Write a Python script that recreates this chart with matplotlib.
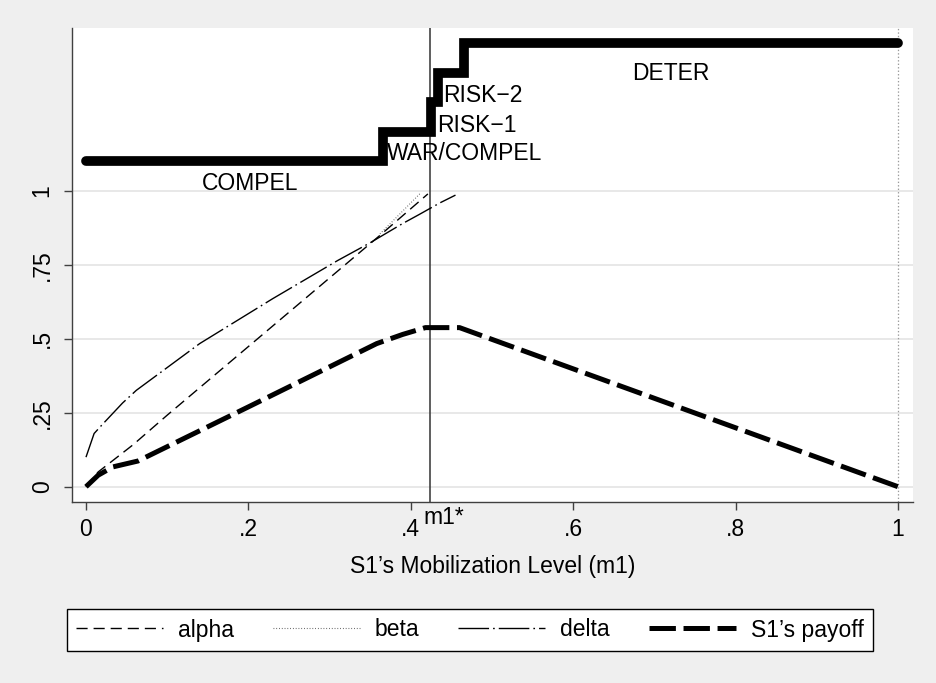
import matplotlib
matplotlib.use("Agg")
import matplotlib.pyplot as plt

plt.rcParams['font.family'] = ['Liberation Sans', 'DejaVu Sans']
plt.rcParams['lines.scale_dashes'] = False

# ---- data ----
m1_star = 0.4236
step_x = [0, 0.366, 0.425, 0.4335, 0.465, 1.0]
step_y = [1.1, 1.2, 1.3, 1.4, 1.5, 1.5]

alpha_x = [0, 0.015, 0.058, 0.10, 0.362, 0.421]
alpha_y = [0, 0.05, 0.142, 0.242, 0.85, 0.99]

beta_x = [0.362, 0.377, 0.412]
beta_y = [0.855, 0.896, 0.993]

delta_x = [0, 0.01, 0.02, 0.045, 0.062, 0.14, 0.23, 0.31, 0.35, 0.39, 0.41, 0.436, 0.455]
delta_y = [0.10, 0.18, 0.21, 0.283, 0.326, 0.484, 0.636, 0.765, 0.825, 0.89, 0.92, 0.96, 0.986]

payoff_x = [0, 0.015, 0.033, 0.064, 0.20, 0.358, 0.39, 0.418, 0.46, 1.0]
payoff_y = [0, 0.039, 0.067, 0.087, 0.27, 0.484, 0.515, 0.538, 0.538, 0]

labels = [("COMPEL", 0.202, 1.026, 'center'),
          ("WAR/COMPEL", 0.371, 1.128, 'left'),
          ("RISK\u22121", 0.432, 1.222, 'left'),
          ("RISK\u22122", 0.440, 1.323, 'left'),
          ("DETER", 0.72, 1.398, 'center')]

xticks = [0, 0.2, 0.4, 0.6, 0.8, 1]
xticklabels = ["0", ".2", ".4", ".6", ".8", "1"]
yticks = [0, 0.25, 0.5, 0.75, 1]
yticklabels = ["0", ".25", ".5", ".75", "1"]

FS = 16.5
BG = '#efefef'

fig = plt.figure(figsize=(9.36, 6.83), dpi=100, facecolor=BG)
ax = fig.add_axes([0.0766, 0.2657, 0.9758 - 0.0766, 0.959 - 0.2657])
ax.set_facecolor('white')
ax.set_xlim(-0.0176, 1.0188)
ax.set_ylim(-0.050, 1.551)

for s in ['top', 'right']:
    ax.spines[s].set_visible(False)
for s in ['left', 'bottom']:
    ax.spines[s].set_color('#404040')
    ax.spines[s].set_linewidth(1.0)

ax.set_yticks(yticks)
ax.set_yticklabels(yticklabels, rotation=90, va='center', fontsize=FS)
ax.set_xticks(xticks)
ax.set_xticklabels(xticklabels, fontsize=FS)
ax.tick_params(axis='both', direction='out', length=6, width=1.0, color='#404040')
ax.tick_params(axis='y', pad=7)
ax.tick_params(axis='x', pad=6)
ax.yaxis.grid(True, color='#e6e6e6', linewidth=1.3)
ax.set_axisbelow(True)

# reference lines
ax.axvline(m1_star, color='#333333', linewidth=1.1, zorder=2)
ax.axvline(1.0, color='#9a9a9a', linewidth=0.9, linestyle=(0, (1, 1.5)), zorder=2)

# series
ax.plot(alpha_x, alpha_y, color='black', linewidth=1.0,
        linestyle=(0, (8, 4.3)), label='alpha', zorder=3)
ax.plot(beta_x, beta_y, color='#555555', linewidth=0.8,
        linestyle=(0, (0.6, 1.4)), label='beta', zorder=3)
ax.plot(delta_x, delta_y, color='black', linewidth=1.0,
        linestyle=(0, (22, 2.9, 1.2, 2.9)), label='delta', zorder=3)
ax.plot(payoff_x, payoff_y, color='black', linewidth=3.6,
        linestyle=(0, (19, 5.5)), dash_capstyle='butt', label='S1\u2019s payoff', zorder=4)

ax.plot(step_x, step_y, drawstyle='steps-post', color='black', linewidth=7.0,
        solid_capstyle='round', solid_joinstyle='miter', zorder=5)

for txt, x, y, ha in labels:
    ax.text(x, y, txt, ha=ha, va='center', fontsize=FS, zorder=6)

# m1* marker label beneath axis
ax.text(m1_star - 0.008, -0.066, "m1*", ha='left', va='top', fontsize=FS,
        transform=ax.transData, clip_on=False)

ax.set_xlabel("S1\u2019s Mobilization Level (m1)", fontsize=FS, labelpad=10)

h, l = ax.get_legend_handles_labels()
leg = fig.legend(h, l, loc='center', bbox_to_anchor=(469.7 / 936, 1 - 630 / 683),
                 ncol=4, fontsize=FS, frameon=True, fancybox=False,
                 edgecolor='black', facecolor='white', framealpha=1,
                 handlelength=3.8, handletextpad=0.65, columnspacing=1.7,
                 borderpad=0.4, borderaxespad=0)
leg.get_frame().set_linewidth(1.0)

fig.savefig("out.png", dpi=100, facecolor=BG)
